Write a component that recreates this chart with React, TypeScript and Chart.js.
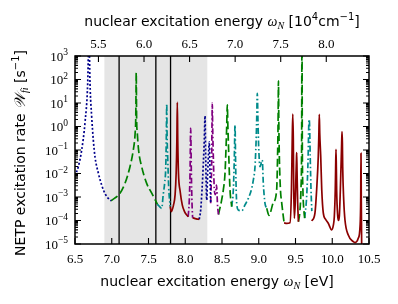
import { useEffect, useRef } from "react";
import { Chart, registerables } from "chart.js";

Chart.register(...registerables);

// ---- axis / annotation data ----
const X_TICKS = [6.5, 7.0, 7.5, 8.0, 8.5, 9.0, 9.5, 10.0, 10.5];
const TOP_TICKS = [5.5, 6.0, 6.5, 7.0, 7.5, 8.0]; // in 10^4 cm^-1
const CM_PER_EV = 8065.544;
const Y_EXPONENTS = [-5, -4, -3, -2, -1, 0, 1, 2, 3];
const SHADE_RANGE = [6.9, 8.3];
const MARKER_LINES = [7.1, 7.6, 7.8];

// ---- series data (energy in eV, rate in s^-1) ----
const NAVY_A_E = [6.5, 6.545, 6.591, 6.636, 6.673, 6.69, 6.704, 6.727, 6.749, 6.772, 6.817, 6.863, 6.908, 6.953, 6.99];
const NAVY_A_W = [7.9e-3, 1.95e-2, 0.1, 1.45, 72, 1e4, 71, 2.6, 0.27, 5.1e-2, 1.05e-2, 3.2e-3, 1.4e-3, 8.7e-4, 6.9e-4];

const GREEN_A_E = [6.99, 7.112, 7.18, 7.248, 7.293, 7.318, 7.327, 7.333, 7.338, 7.348, 7.365, 7.407, 7.475, 7.544, 7.62];
const GREEN_A_W = [6.9e-4, 1.45e-3, 3.8e-3, 1.95e-2, 0.1, 0.51, 2.6, 195, 2.6, 0.51, 0.1, 1.95e-2, 3.8e-3, 1.45e-3, 5.0e-4];

const TEAL_A_E = [7.62, 7.68, 7.7, 7.72, 7.735, 7.743, 7.748, 7.753, 7.762, 7.775, 7.795];
const TEAL_A_W = [5.0e-4, 3.3e-4, 1.26e-3, 4.0e-3, 2.0e-2, 0.5, 9.3, 0.4, 0.04, 2.5e-3, 4.0e-4];

const RED_A_E = [7.795, 7.81, 7.84, 7.862, 7.876, 7.886, 7.892, 7.898, 7.908, 7.93, 7.96, 7.99, 8.04];
const RED_A_W = [4.0e-4, 2.4e-4, 4.5e-4, 1.26e-3, 1.0e-2, 0.25, 10.7, 0.25, 1.0e-2, 1.8e-3, 4.5e-4, 2.4e-4, 1.45e-4];

const PURPLE_A_E = [8.04, 8.055, 8.065, 8.074, 8.083, 8.092, 8.1];
const PURPLE_A_W = [1.45e-4, 7.4e-4, 1.02e-2, 0.83, 1.02e-2, 5.4e-4, 1.32e-4];

const RED_B_E = [8.1, 8.15, 8.19];
const RED_B_W = [1.32e-4, 1.17e-4, 1.12e-4];

const NAVY_B_E = [8.19, 8.21, 8.228, 8.246, 8.259, 8.269, 8.278, 8.292, 8.305, 8.319, 8.327, 8.337, 8.346];
const NAVY_B_W = [1.12e-4, 2.8e-4, 2.0e-3, 2.7e-2, 0.27, 2.8, 5.1e-2, 7.4e-4, 1.02e-2, 0.1, 0.22, 1.02e-2, 5.4e-4];

const PURPLE_B_E = [8.346, 8.36, 8.364, 8.368, 8.372, 8.382, 8.396, 8.41, 8.425, 8.44, 8.452];
const PURPLE_B_W = [5.4e-4, 5.1e-2, 1.38, 9.8, 1.38, 5.1e-2, 2.0e-3, 1.26e-3, 3.2e-3, 4.0e-4, 1.8e-4];

const GREEN_B_E = [8.452, 8.495, 8.518, 8.541, 8.556, 8.564, 8.572, 8.58, 8.588, 8.598, 8.609, 8.632];
const GREEN_B_W = [1.8e-4, 7.4e-4, 2.0e-3, 1.02e-2, 0.16, 1.0, 8.3, 1.0, 0.16, 1.6e-2, 2.0e-3, 3.9e-4];

const TEAL_B_E = [8.632, 8.654, 8.668, 8.677, 8.686, 8.7, 8.722, 8.768, 8.813, 8.858, 8.904, 8.926, 8.949, 8.963, 8.972, 8.98, 8.99, 8.999, 9.017, 9.048, 9.062, 9.085, 9.108];
const TEAL_B_W = [3.9e-4, 2.0e-3, 5.1e-2, 1.15, 1.95e-2, 5.4e-4, 2.8e-4, 2.6e-4, 4.6e-4, 8.7e-4, 2.3e-3, 5.2e-3, 1.95e-2, 0.195, 1.9, 25.7, 1.38, 0.138, 1.95e-2, 3.7e-2, 3.8e-3, 5.4e-4, 3.3e-4];

const GREEN_C_E = [9.108, 9.14, 9.198, 9.244, 9.256, 9.263, 9.268, 9.273, 9.28, 9.295, 9.312, 9.345];
const GREEN_C_W = [3.3e-4, 1.66e-4, 5.8e-4, 2.1e-3, 5.5e-2, 1.45, 87, 1.45, 5.5e-2, 2.1e-3, 5.8e-4, 7.9e-5];

const RED_C_E = [9.345, 9.38, 9.425, 9.445, 9.456, 9.463, 9.47, 9.476, 9.484, 9.497, 9.507, 9.513, 9.516, 9.521, 9.53, 9.54];
const RED_C_W = [7.9e-5, 7.6e-5, 8.1e-5, 2.1e-3, 0.32, 3.4, 0.32, 2.1e-3, 1.26e-4, 6.3e-4, 1.0e-2, 4.0e-2, 7.8e-2, 1.26e-2, 5.0e-4, 8.9e-5];

const GREEN_D_E = [9.54, 9.56, 9.575, 9.583, 9.588, 9.593, 9.6, 9.615, 9.625];
const GREEN_D_W = [8.9e-5, 2.5e-4, 2.5e-3, 0.1, 1e4, 0.1, 2.5e-3, 2.5e-4, 1.26e-4];

const TEAL_C_E = [9.625, 9.652, 9.672, 9.68, 9.686, 9.692, 9.7, 9.711, 9.722];
const TEAL_C_W = [1.26e-4, 1.1e-3, 5.5e-2, 1.0, 2.0, 1.0, 5.5e-2, 2.1e-3, 2.5e-4];

const RED_D_E = [9.722, 9.765, 9.788, 9.81, 9.818, 9.824, 9.83, 9.843, 9.857, 9.878, 9.91, 9.946, 9.992, 10.015, 10.028, 10.041, 10.046, 10.051, 10.056, 10.06, 10.074, 10.085, 10.097, 10.11, 10.123, 10.128, 10.133, 10.138, 10.142, 10.156, 10.173, 10.218, 10.286, 10.31, 10.354, 10.378, 10.387, 10.391, 10.395, 10.4, 10.41];
const RED_D_W = [9.5e-5, 2.1e-4, 2.1e-3, 5.5e-2, 0.5, 3.3, 0.5, 5.5e-2, 2.1e-3, 2.1e-4, 1.12e-4, 7.6e-5, 4.0e-5, 6.3e-5, 1.45e-4, 2.0e-3, 1.6e-2, 0.107, 1.6e-2, 2.0e-3, 1.6e-4, 1.0e-4, 1.6e-4, 2.0e-3, 5.1e-2, 0.2, 0.6, 0.2, 1.95e-2, 7.4e-4, 1.05e-4, 2.4e-5, 1.26e-5, 1.15e-5, 1.74e-5, 5.5e-5, 7.4e-4, 7.2e-2, 7.4e-4, 1.07e-5, 1e-6];

const SEGMENTS: { e: number[]; w: number[]; kind: string }[] = [
  { e: NAVY_A_E, w: NAVY_A_W, kind: "navy" },
  { e: GREEN_A_E, w: GREEN_A_W, kind: "green" },
  { e: TEAL_A_E, w: TEAL_A_W, kind: "teal" },
  { e: RED_A_E, w: RED_A_W, kind: "red" },
  { e: PURPLE_A_E, w: PURPLE_A_W, kind: "purple" },
  { e: RED_B_E, w: RED_B_W, kind: "red" },
  { e: NAVY_B_E, w: NAVY_B_W, kind: "navy" },
  { e: PURPLE_B_E, w: PURPLE_B_W, kind: "purple" },
  { e: GREEN_B_E, w: GREEN_B_W, kind: "green" },
  { e: TEAL_B_E, w: TEAL_B_W, kind: "teal" },
  { e: GREEN_C_E, w: GREEN_C_W, kind: "green" },
  { e: RED_C_E, w: RED_C_W, kind: "red" },
  { e: GREEN_D_E, w: GREEN_D_W, kind: "green" },
  { e: TEAL_C_E, w: TEAL_C_W, kind: "teal" },
  { e: RED_D_E, w: RED_D_W, kind: "red" },
];

// ---- styles ----
const STYLES: Record<string, { color: string; dash: number[] }> = {
  navy: { color: "#00008b", dash: [2, 2] },
  green: { color: "#008000", dash: [8, 3.5] },
  purple: { color: "#800080", dash: [6, 2.5, 1.5, 2.5] },
  teal: { color: "#008b8b", dash: [6, 2.5, 1.5, 2.5] },
  red: { color: "#8b0000", dash: [] },
};

const SANS = '"DejaVu Sans", sans-serif';
const SERIF = '"Liberation Serif", "Times New Roman", serif';
const W = 398;
const H = 304;

type Run = { t: string; f: string; dy?: number };

function drawRuns(ctx: CanvasRenderingContext2D, runs: Run[], x: number, y: number, align: "center" | "right", rot = 0) {
  ctx.save();
  ctx.translate(x, y);
  ctx.rotate(rot);
  ctx.textAlign = "left";
  ctx.textBaseline = "alphabetic";
  let w = 0;
  for (const r of runs) {
    ctx.font = r.f;
    w += ctx.measureText(r.t).width;
  }
  let cx = align === "center" ? -w / 2 : -w;
  for (const r of runs) {
    ctx.font = r.f;
    ctx.fillText(r.t, cx, r.dy || 0);
    cx += ctx.measureText(r.t).width;
  }
  ctx.restore();
}

export default function App() {
  const ref = useRef<HTMLCanvasElement>(null);

  useEffect(() => {
    document.body.style.margin = "0";
    const canvas = ref.current;
    if (!canvas) return;

    const decor = {
      id: "decor",
      beforeDatasetsDraw(chart: any) {
        const { ctx, chartArea: ca } = chart;
        const xs = chart.scales.x;
        ctx.save();
        ctx.fillStyle = "#e5e5e5";
        const x0 = xs.getPixelForValue(SHADE_RANGE[0]);
        const x1 = xs.getPixelForValue(SHADE_RANGE[1]);
        ctx.fillRect(x0, ca.top, x1 - x0, ca.bottom - ca.top);
        ctx.strokeStyle = "#000";
        ctx.lineWidth = 1.3;
        ctx.beginPath();
        for (const v of MARKER_LINES) {
          const px = xs.getPixelForValue(v);
          ctx.moveTo(px, ca.top);
          ctx.lineTo(px, ca.bottom);
        }
        ctx.stroke();
        ctx.restore();
      },
      afterDatasetsDraw(chart: any) {
        const { ctx, chartArea: ca } = chart;
        const xs = chart.scales.x;
        const ys = chart.scales.y;
        ctx.save();
        ctx.strokeStyle = "#000";
        ctx.lineWidth = 1.1;
        ctx.beginPath();
        for (const v of X_TICKS) {
          const px = xs.getPixelForValue(v);
          ctx.moveTo(px, ca.bottom);
          ctx.lineTo(px, ca.bottom - 6);
        }
        for (const v of TOP_TICKS) {
          const px = xs.getPixelForValue((v * 1e4) / CM_PER_EV);
          ctx.moveTo(px, ca.top);
          ctx.lineTo(px, ca.top + 6);
        }
        for (const e of Y_EXPONENTS) {
          const py = ys.getPixelForValue(Math.pow(10, e));
          ctx.moveTo(ca.left, py);
          ctx.lineTo(ca.left + 6, py);
          ctx.moveTo(ca.right, py);
          ctx.lineTo(ca.right - 6, py);
          if (e < 3) {
            for (let m = 2; m <= 9; m++) {
              const pm = ys.getPixelForValue(m * Math.pow(10, e));
              ctx.moveTo(ca.left, pm);
              ctx.lineTo(ca.left + 3, pm);
              ctx.moveTo(ca.right, pm);
              ctx.lineTo(ca.right - 3, pm);
            }
          }
        }
        ctx.stroke();
        ctx.lineWidth = 1.5;
        ctx.strokeRect(ca.left, ca.top, ca.right - ca.left, ca.bottom - ca.top);

        ctx.fillStyle = "#000";
        for (const v of X_TICKS) {
          drawRuns(ctx, [{ t: v.toFixed(1), f: `13px ${SERIF}` }], xs.getPixelForValue(v), ca.bottom + 19, "center");
        }
        for (const v of TOP_TICKS) {
          drawRuns(ctx, [{ t: v.toFixed(1), f: `13px ${SERIF}` }], xs.getPixelForValue((v * 1e4) / CM_PER_EV), ca.top - 8, "center");
        }
        for (const e of Y_EXPONENTS) {
          const py = ys.getPixelForValue(Math.pow(10, e));
          const ex = e < 0 ? "\u2212" + Math.abs(e) : String(e);
          drawRuns(
            ctx,
            [
              { t: "10", f: `13px ${SERIF}` },
              { t: ex, f: `9.5px ${SERIF}`, dy: -5.5 },
            ],
            68,
            py + 4.5,
            "right"
          );
        }
        const cx = (ca.left + ca.right) / 2;
        drawRuns(
          ctx,
          [
            { t: "nuclear excitation energy ", f: `14px ${SANS}` },
            { t: "\u03c9", f: `italic 14px ${SERIF}` },
            { t: "N", f: `italic 10px ${SERIF}`, dy: 3 },
            { t: " [eV]", f: `14px ${SANS}` },
          ],
          cx - 5,
          ca.bottom + 42,
          "center"
        );
        drawRuns(
          ctx,
          [
            { t: "nuclear excitation energy ", f: `14px ${SANS}` },
            { t: "\u03c9", f: `italic 14px ${SERIF}` },
            { t: "N", f: `italic 10px ${SERIF}`, dy: 3 },
            { t: " [10", f: `14px ${SANS}` },
            { t: "4", f: `10px ${SANS}`, dy: -6 },
            { t: "cm", f: `14px ${SANS}` },
            { t: "\u22121", f: `10px ${SANS}`, dy: -6 },
            { t: "]", f: `14px ${SANS}` },
          ],
          cx,
          ca.top - 30,
          "center"
        );
        drawRuns(
          ctx,
          [
            { t: "NETP excitation rate ", f: `14px ${SANS}` },
            { t: "\ud835\udcb2", f: `italic 15px ${SERIF}` },
            { t: "fi", f: `italic 10px ${SERIF}`, dy: 3 },
            { t: " [s", f: `14px ${SANS}` },
            { t: "\u22121", f: `10px ${SANS}`, dy: -6 },
            { t: "]", f: `14px ${SANS}` },
          ],
          25,
          (ca.top + ca.bottom) / 2 + 3,
          "center",
          -Math.PI / 2
        );
        ctx.restore();
      },
    };

    const chart = new Chart(canvas, {
      type: "line",
      data: {
        datasets: SEGMENTS.map((s) => ({
          data: s.e.map((x, i) => ({ x, y: s.w[i] })),
          borderColor: STYLES[s.kind].color,
          borderDash: STYLES[s.kind].dash,
          borderWidth: 1.7,
          pointRadius: 0,
          fill: false,
          cubicInterpolationMode: "monotone" as const,
          clip: 0,
        })),
      },
      options: {
        animation: false,
        responsive: false,
        events: [],
        layout: { padding: { left: 75, right: W - 369, top: 56, bottom: H - 244 } },
        plugins: { legend: { display: false }, tooltip: { enabled: false } },
        scales: {
          x: { type: "linear", min: 6.5, max: 10.5, display: false },
          y: { type: "logarithmic", min: 1e-5, max: 1e3, display: false },
        },
      },
      plugins: [decor],
    });
    return () => chart.destroy();
  }, []);

  return <canvas ref={ref} width={W} height={H} style={{ display: "block", width: W, height: H }} />;
}
